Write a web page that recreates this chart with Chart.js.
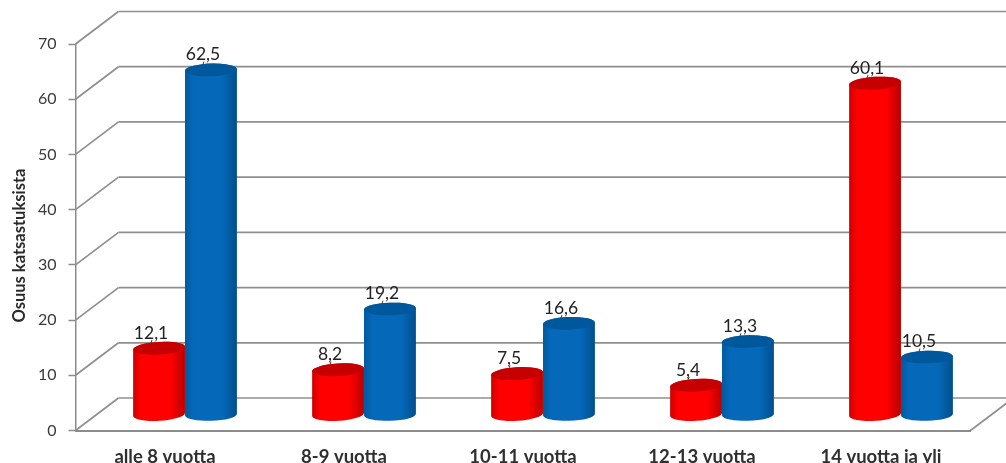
<!DOCTYPE html>
<html>
<head>
<meta charset="utf-8">
<style>
  html, body { margin: 0; background: #fff; }
  canvas { display: block; }
</style>
<script src="https://cdn.jsdelivr.net/npm/chart.js@4/dist/chart.umd.min.js"></script>
</head>
<body>
<canvas id="chart" width="1006" height="463"></canvas>
<script>
const categories = ['alle 8 vuotta', '8-9 vuotta', '10-11 vuotta', '12-13 vuotta', '14 vuotta ja yli'];
const redValues = [12.1, 8.2, 7.5, 5.4, 60.1];
const blueValues = [62.5, 19.2, 16.6, 13.3, 10.5];
const yTicks = [0, 10, 20, 30, 40, 50, 60, 70];
const yTitle = 'Osuus katsastuksista';

// depth of the fake 3D box, and where the columns stand inside it
const DEPTH_X = 43;
const DEPTH_Y = -32.5;
const BAR_DX = 20;
const BAR_DY = -15.5;
const ELLIPSE_RY = 6.3;

const gridColor = '#8f8f8f';
const textColor = '#3a3a3a';

const redShade = { left: '#cc0000', mid: '#ff0000', right: '#b80000', top: '#c60000', tilt: -0.06 };
const blueShade = { left: '#005a9f', mid: '#0568b8', right: '#004f8c', top: '#00589c', tilt: -0.03 };

function line(ctx, x1, y1, x2, y2) {
  ctx.beginPath();
  ctx.moveTo(x1, y1);
  ctx.lineTo(x2, y2);
  ctx.stroke();
}

// back wall lines plus the diagonals running to the front axis
const box3d = {
  id: 'box3d',
  beforeDatasetsDraw(chart) {
    const { ctx, chartArea, scales: { y } } = chart;
    ctx.save();
    ctx.strokeStyle = gridColor;
    ctx.lineWidth = 1.7;
    yTicks.forEach((v) => {
      const py = y.getPixelForValue(v);
      line(ctx, chartArea.left, py, chartArea.left + DEPTH_X, py + DEPTH_Y);
      line(ctx, chartArea.left + DEPTH_X, py + DEPTH_Y, chart.width, py + DEPTH_Y);
    });
    const y0 = y.getPixelForValue(0);
    line(ctx, chartArea.right, y0, chartArea.right + DEPTH_X, y0 + DEPTH_Y);
    ctx.restore();
  },
};

function drawCylinder(ctx, bar, shade) {
  const rx = bar.width / 2;
  const cx = bar.x + BAR_DX;
  const top = bar.y + BAR_DY;
  const bottom = bar.base + BAR_DY;

  const grad = ctx.createLinearGradient(cx - rx, 0, cx + rx, 0);
  grad.addColorStop(0, shade.left);
  grad.addColorStop(0.15, shade.mid);
  grad.addColorStop(0.72, shade.mid);
  grad.addColorStop(1, shade.right);

  ctx.fillStyle = grad;
  ctx.beginPath();
  ctx.ellipse(cx, bottom, rx, ELLIPSE_RY, shade.tilt, Math.PI, 0, true);
  ctx.ellipse(cx, top, rx, ELLIPSE_RY, shade.tilt, 0, Math.PI, true);
  ctx.closePath();
  ctx.fill();

  ctx.fillStyle = shade.top;
  ctx.beginPath();
  ctx.ellipse(cx, top, rx, ELLIPSE_RY, shade.tilt, 0, Math.PI * 2);
  ctx.fill();
}

// columns are drawn as cylinders from the bar elements' own geometry
const cylinders = {
  id: 'cylinders',
  afterDatasetsDraw(chart) {
    const { ctx } = chart;
    const shades = [redShade, blueShade];
    const valueLists = [redValues, blueValues];
    ctx.save();
    categories.forEach((_, i) => {
      shades.forEach((shade, d) => {
        drawCylinder(ctx, chart.getDatasetMeta(d).data[i], shade);
      });
    });
    ctx.font = '17.5px Lato';
    ctx.textAlign = 'center';
    ctx.textBaseline = 'middle';
    shades.forEach((_, d) => {
      chart.getDatasetMeta(d).data.forEach((bar, i) => {
        const lx = bar.x + BAR_DX - 8;
        const ly = bar.y + BAR_DY - ELLIPSE_RY - 9;
        ctx.strokeStyle = textColor;
        ctx.lineWidth = 1;
        line(ctx, lx + 1, ly + 7, lx, ly + 10);
        ctx.fillStyle = '#222';
        ctx.fillText(valueLists[d][i].toFixed(1).replace('.', ','), lx, ly);
      });
    });
    ctx.restore();
  },
};

// axis title sits below the middle of the axis, so it is placed by hand
const axisTitle = {
  id: 'axisTitle',
  afterDraw(chart) {
    const { ctx, scales: { y } } = chart;
    ctx.save();
    ctx.translate(20, y.getPixelForValue(33.5));
    ctx.rotate(-Math.PI / 2);
    ctx.font = 'bold 16.5px Lato';
    ctx.fillStyle = '#2a2a2a';
    ctx.textAlign = 'center';
    ctx.textBaseline = 'middle';
    ctx.fillText(yTitle, 0, 0);
    ctx.restore();
  },
};

new Chart(document.getElementById('chart'), {
  type: 'bar',
  data: {
    labels: categories,
    datasets: [
      { data: redValues, backgroundColor: 'transparent' },
      { data: blueValues, backgroundColor: 'transparent' },
    ],
  },
  plugins: [box3d, cylinders, axisTitle],
  options: {
    responsive: false,
    animation: false,
    layout: { padding: { top: 44, right: 35.5, bottom: 0, left: 0 } },
    plugins: { legend: { display: false }, tooltip: { enabled: false } },
    datasets: { bar: { barPercentage: 1, categoryPercentage: 0.58 } },
    scales: {
      x: {
        afterFit(scale) { scale.height = 32.5; },
        grid: { display: false, drawTicks: false },
        border: { display: true, color: '#8c8c8c', width: 2 },
        ticks: {
          color: '#2f2f2f',
          padding: 15,
          maxRotation: 0,
          font: { family: 'Lato', size: 18.5, weight: 'bold' },
        },
      },
      y: {
        min: 0,
        max: 70,
        afterFit(scale) { scale.width = 75.5; },
        grid: { drawOnChartArea: false, tickLength: 7, tickColor: '#8c8c8c', tickWidth: 1.5 },
        border: { display: true, color: '#8c8c8c', width: 1.5 },
        ticks: {
          stepSize: 10,
          color: textColor,
          padding: 12,
          font: { family: 'Lato', size: 16 },
        },
      },
    },
  },
});
</script>
</body>
</html>
